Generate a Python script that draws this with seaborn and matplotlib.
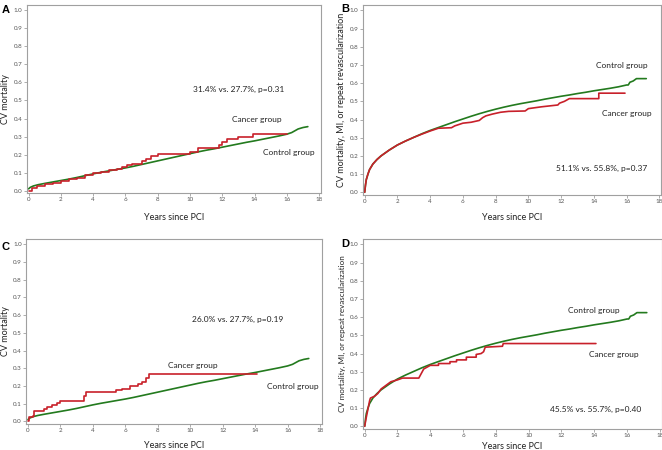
import numpy as np
import pandas as pd
import matplotlib
matplotlib.use("Agg")
import matplotlib.pyplot as plt
import seaborn as sns

# ---------------- data ----------------
# Panel A / C control group (CV mortality)
ctrl_cv_t = [0, 0.1, 0.3, 0.6, 1, 1.5, 2, 2.5, 3, 3.5, 4, 4.5, 5, 5.5, 6, 6.5, 7, 7.5, 8, 8.5, 9, 9.5,
             10, 10.5, 11, 11.5, 12, 12.5, 13, 13.5, 14, 14.5, 15, 15.5, 16, 16.3, 16.5, 16.7, 17.0, 17.3]
ctrl_cv_y = [0.01, 0.018, 0.026, 0.033, 0.04, 0.048, 0.056, 0.064, 0.073, 0.083, 0.093, 0.102, 0.11, 0.118,
             0.126, 0.135, 0.145, 0.155, 0.165, 0.175, 0.185, 0.195, 0.205, 0.215, 0.224, 0.232, 0.241,
             0.25, 0.259, 0.268, 0.276, 0.285, 0.294, 0.303, 0.313, 0.322, 0.332, 0.342, 0.35, 0.355]

# Panel A cancer group (step curve)
canA_t = [0, 0.2, 0.5, 1, 1.5, 2, 2.5, 3, 3.5, 4, 4.5, 5, 5.5, 5.8, 6.1, 6.4, 7, 7.3, 7.6, 8, 10,
          10.5, 11.6, 11.8, 12.0, 12.3, 13.0, 13.9, 16.0]
canA_y = [0.0, 0.015, 0.025, 0.035, 0.045, 0.052, 0.062, 0.072, 0.088, 0.1, 0.106, 0.112, 0.12, 0.13,
          0.14, 0.15, 0.162, 0.178, 0.19, 0.205, 0.212, 0.235, 0.238, 0.255, 0.27, 0.285, 0.3, 0.315, 0.315]

# Panel B / D control group (CV mortality, MI, or repeat revascularization)
ctrl_mace_t = [0, 0.05, 0.1, 0.2, 0.3, 0.5, 0.75, 1, 1.5, 2, 2.5, 3, 3.5, 4, 4.5, 5, 5.5, 6, 6.5, 7, 7.5,
               8, 8.5, 9, 9.5, 10, 10.5, 11, 11.5, 12, 12.5, 13, 13.5, 14, 14.5, 15, 15.5, 16, 16.1,
               16.2, 16.4, 16.6, 17.2]
ctrl_mace_y = [0.0, 0.04, 0.07, 0.1, 0.125, 0.155, 0.18, 0.2, 0.232, 0.26, 0.282, 0.302, 0.322, 0.34,
               0.356, 0.372, 0.388, 0.403, 0.418, 0.432, 0.445, 0.457, 0.468, 0.478, 0.487, 0.495,
               0.503, 0.512, 0.52, 0.528, 0.535, 0.543, 0.55, 0.558, 0.565, 0.572, 0.58, 0.59, 0.59,
               0.605, 0.612, 0.625, 0.625]

# Panel B cancer group (points incl. explicit vertical jumps)
canB_t = [0, 0.05, 0.1, 0.2, 0.3, 0.5, 0.75, 1, 1.5, 2, 2.5, 3, 3.5, 4, 4.5, 5.3, 5.5, 6.0, 6.5, 7.0,
          7.2, 7.4, 7.8, 8.3, 8.8, 9.8, 10.0, 10.8, 11.8, 11.9, 12.2, 12.5, 14.3, 14.3, 15.9]
canB_y = [0.0, 0.04, 0.07, 0.1, 0.125, 0.155, 0.18, 0.2, 0.232, 0.26, 0.282, 0.302, 0.32, 0.337, 0.352,
          0.355, 0.365, 0.38, 0.385, 0.395, 0.41, 0.42, 0.43, 0.44, 0.445, 0.447, 0.46, 0.47, 0.48,
          0.49, 0.5, 0.515, 0.515, 0.545, 0.545]

# Panel C cancer group (step curve)
canC_t = [0, 0.05, 0.3, 0.35, 1.0, 1.2, 1.5, 1.8, 2.0, 3.3, 3.45, 3.6, 5.3, 5.4, 5.8, 6.3, 6.8, 7.0,
          7.3, 7.45, 14.1]
canC_y = [0.0, 0.025, 0.03, 0.057, 0.067, 0.08, 0.09, 0.105, 0.115, 0.115, 0.145, 0.165, 0.165, 0.175,
          0.185, 0.2, 0.21, 0.225, 0.245, 0.265, 0.265]

# Panel D cancer group (points incl. explicit vertical jumps)
canD_t = [0, 0.1, 0.3, 0.35, 0.6, 0.8, 1.0, 1.3, 1.6, 2.0, 2.3, 3.3, 3.45, 3.6, 3.9, 4.0, 4.5, 4.5,
          5.2, 5.2, 5.6, 5.6, 6.2, 6.2, 6.8, 6.8, 7.1, 7.25, 7.35, 8.4, 8.45, 14.1]
canD_y = [0.0, 0.05, 0.14, 0.155, 0.165, 0.18, 0.205, 0.225, 0.245, 0.255, 0.265, 0.265, 0.29, 0.315,
          0.33, 0.335, 0.335, 0.345, 0.345, 0.355, 0.355, 0.365, 0.365, 0.38, 0.38, 0.395, 0.4, 0.41,
          0.435, 0.44, 0.455, 0.455]

panel_letters = ["A", "B", "C", "D"]
ylabels = ["CV mortality", "CV mortality, MI, or repeat revascularization",
           "CV mortality", "CV mortality, MI, or repeat revascularization"]
stats_text = ["31.4% vs. 27.7%, p=0.31", "51.1% vs. 55.8%, p=0.37",
              "26.0% vs. 27.7%, p=0.19", "45.5% vs. 55.7%, p=0.40"]
xlabel = "Years since PCI"
xticks = list(range(0, 19, 2))
yticks = [round(0.1 * i, 1) for i in range(11)]

# ---------------- styling ----------------
sns.set_theme(style="white")
plt.rcParams["font.family"] = ["Lato", "DejaVu Sans"]

RED = "#c8202a"
GREEN = "#237a1e"
SPINE = "#a0a0a0"

fig = plt.figure(figsize=(6.62, 4.5), dpi=100)

rects = [
    (0.0403, 0.5704, 0.4442, 0.4186),
    (0.5479, 0.5667, 0.4506, 0.4222),
    (0.0393, 0.0578, 0.4467, 0.4111),
    (0.5479, 0.0467, 0.4514, 0.4222),
]

panels = [
    (ctrl_cv_t, ctrl_cv_y, canA_t, canA_y, "steps-post"),
    (ctrl_mace_t, ctrl_mace_y, canB_t, canB_y, "default"),
    (ctrl_cv_t, ctrl_cv_y, canC_t, canC_y, "steps-post"),
    (ctrl_mace_t, ctrl_mace_y, canD_t, canD_y, "default"),
]

# text positions in data coords: (stats, cancer, control)
text_pos = [
    ((10.2, 0.56), (12.6, 0.397), (14.5, 0.21)),
    ((11.7, 0.131), (14.5, 0.435), (14.1, 0.696)),
    ((10.1, 0.573), (8.64, 0.318), (14.7, 0.199)),
    ((11.3, 0.091), (13.7, 0.393), (12.4, 0.637)),
]
xlabelpads = [6.5, 5.5, 5.0, 2.0]
ylabel_sizes = [6.5, 6.5, 6.5, 5.8]
letter_pos = [(0.002, 0.988), (0.516, 0.99), (0.002, 0.462), (0.516, 0.469)]

for i, (rect, (ct, cy, kt, ky, ds)) in enumerate(zip(rects, panels)):
    ax = fig.add_axes(rect)
    dfc = pd.DataFrame({"t": ct, "y": cy})
    dfk = pd.DataFrame({"t": kt, "y": ky})
    sns.lineplot(data=dfc, x="t", y="y", ax=ax, color=GREEN, lw=1.2,
                 estimator=None, sort=False)
    sns.lineplot(data=dfk, x="t", y="y", ax=ax, color=RED, lw=1.2,
                 drawstyle=ds, estimator=None, sort=False)
    ax.set_xlim(-0.12, 18.1)
    ax.set_ylim(-0.015, 1.03)
    ax.set_xticks(xticks)
    ax.set_xticklabels([str(v) for v in xticks])
    ax.set_yticks(yticks)
    ax.set_yticklabels([f"{v:.1f}" for v in yticks])
    ax.tick_params(axis="both", which="both", direction="out", length=2, width=0.6,
                   color=SPINE, labelsize=4.5, labelcolor="#555555", pad=1,
                   bottom=True, left=True)
    for s in ax.spines.values():
        s.set_visible(True)
        s.set_color(SPINE)
        s.set_linewidth(0.8)
    ax.set_xlabel(xlabel, fontsize=6.5, color="#222222", labelpad=xlabelpads[i] + 1)
    ax.set_ylabel(ylabels[i], fontsize=ylabel_sizes[i], color="#222222", labelpad=2.5)
    (sx, sy), (kx, ky_), (cx, cy_) = text_pos[i]
    ax.text(sx, sy, stats_text[i], fontsize=6, color="#222222", va="center", ha="left")
    ax.text(kx, ky_, "Cancer group", fontsize=6, color="#222222", va="center", ha="left")
    ax.text(cx, cy_, "Control group", fontsize=6, color="#222222", va="center", ha="left")
    lx, ly = letter_pos[i]
    fig.text(lx, ly, panel_letters[i], fontsize=8, fontweight="bold",
             family=["Liberation Sans", "DejaVu Sans"], va="top", ha="left", color="black")

fig.savefig("out.png", dpi=100)
